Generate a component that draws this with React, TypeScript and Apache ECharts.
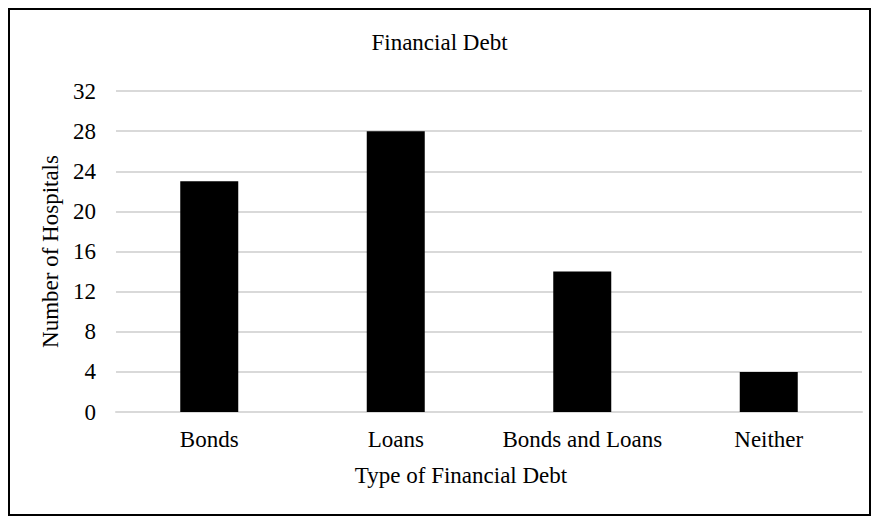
import React, { useEffect, useRef } from "react";
import * as echarts from "echarts";

const categories = ["Bonds", "Loans", "Bonds and Loans", "Neither"];
const hospitals = [23, 28, 14, 4];
const yTicks = { min: 0, max: 32, interval: 4 };

const FONT = "'Liberation Serif', 'Times New Roman', serif";
const FS = 23;

export default function App() {
  const ref = useRef<HTMLDivElement>(null);
  useEffect(() => {
    if (!ref.current) return;
    const chart = echarts.init(ref.current, null, { renderer: "svg" });
    chart.setOption({
      animation: false,
      textStyle: { fontFamily: FONT },
      title: {
        text: "Financial Debt",
        left: "center",
        top: 16,
        textStyle: { fontFamily: FONT, fontSize: FS, fontWeight: "normal", color: "#000" },
      },
      grid: { left: 106, right: 7, top: 81, bottom: 102, containLabel: false },
      xAxis: {
        type: "category",
        data: categories,
        name: "Type of Financial Debt",
        nameLocation: "middle",
        nameGap: 52,
        nameTextStyle: { fontFamily: FONT, fontSize: FS, color: "#000", padding: [0, 56, 0, 0] },
        axisLine: { show: true, lineStyle: { color: "#d9d9d9", width: 2 } },
        axisTick: { show: false },
        axisLabel: { fontFamily: FONT, fontSize: FS, color: "#000", margin: 16, interval: 0, hideOverlap: false },
      },
      yAxis: {
        type: "value",
        min: yTicks.min,
        max: yTicks.max,
        interval: yTicks.interval,
        name: "Number of Hospitals",
        nameLocation: "middle",
        nameGap: 50,
        nameTextStyle: { fontFamily: FONT, fontSize: FS, color: "#000" },
        axisLine: { show: false },
        axisTick: { show: false },
        axisLabel: { fontFamily: FONT, fontSize: FS, color: "#000", margin: 20 },
        splitLine: { lineStyle: { color: "#d9d9d9", width: 2 } },
      },
      series: [
        {
          type: "bar",
          data: hospitals,
          barWidth: 58,
          itemStyle: { color: "#000" },
        },
      ],
    });
    return () => chart.dispose();
  }, []);
  return (
    <div
      style={{
        width: 863,
        height: 508,
        border: "2px solid #000",
        boxSizing: "border-box",
        background: "#fff",
      }}
    >
      <div ref={ref} style={{ width: 859, height: 504 }} />
    </div>
  );
}
